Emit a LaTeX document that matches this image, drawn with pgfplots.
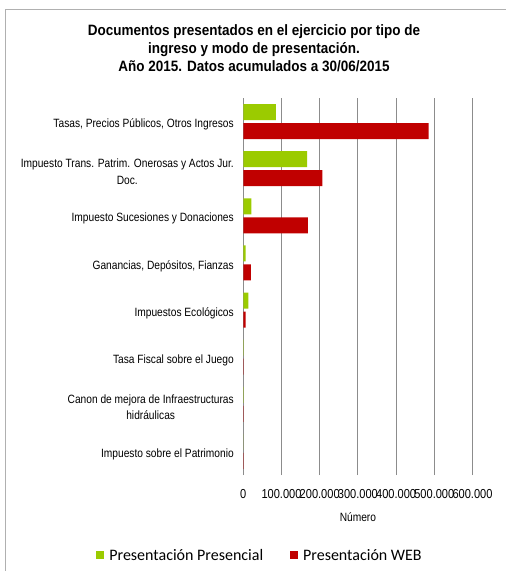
\documentclass[border=0pt]{standalone}
\usepackage{fontspec}
\setmainfont[FakeStretch=0.85]{Liberation Sans}
\newfontfamily\titlefont[FakeStretch=0.9]{Liberation Sans}
\newfontfamily\legfont{Carlito}
\usepackage{pgfplots}
\pgfplotsset{compat=1.18}
\definecolor{cgreen}{HTML}{9BCB00}
\definecolor{cred}{HTML}{C00000}
\definecolor{cgrid}{HTML}{8C8C8C}
\definecolor{cframe}{HTML}{B0B0B0}
\begin{document}
\begin{tikzpicture}
\path[use as bounding box] (0pt,0pt) rectangle (506pt,571pt);
\draw[cframe, line width=1pt] (5.7pt,0pt) -- (5.7pt,561.5pt) -- (506pt,561.5pt);
\node[align=center, font=\titlefont\fontsize{15}{18}\selectfont\bfseries] at (254pt,523pt)
  {Documentos presentados en el ejercicio por tipo de\\
   ingreso y modo de presentación.\hspace*{28pt}\\
   Año 2015. Datos acumulados a 30/06/2015};
\begin{axis}[
  at={(243.3pt,96pt)}, anchor=south west,
  scale only axis, width=229.2pt, height=377pt,
  xbar, bar width=16pt,
  xmin=0, xmax=600000, ymin=-0.5, ymax=7.5,
  axis line style={draw=none},
  xmajorgrids=true, grid style={cgrid, line width=1pt},
  major tick length=0pt,
  xtick={0,100000,200000,300000,400000,500000,600000},
  xticklabels={0,100.000,200.000,300.000,400.000,500.000,600.000},
  scaled x ticks=false,
  xticklabel style={font=\fontsize{13}{15}\selectfont, yshift=-11pt},
  ytick={0,1,2,3,4,5,6,7},
  yticklabels={Impuesto sobre el Patrimonio,
    {Canon de mejora de Infraestructuras\\hidráulicas},
    Tasa Fiscal sobre el Juego,
    Impuestos Ecológicos,
    {Ganancias, Depósitos, Fianzas},
    Impuesto Sucesiones y Donaciones,
    {Impuesto Trans. Patrim. Onerosas y Actos Jur.\\Doc.},
    {Tasas, Precios Públicos, Otros Ingresos}},
  yticklabel style={align=center, font=\fontsize{12}{16.5}\selectfont, xshift=-6pt, yshift=-3pt},
  xlabel={Número},
  xlabel style={font=\fontsize{12}{14}\selectfont, yshift=-7pt},
  legend columns=2,
  legend style={at={(axis description cs:0.073,-0.213)}, anchor=center, draw=none,
    font=\legfont\fontsize{16}{18}\selectfont,
    /tikz/every even column/.style={column sep=25pt}},
  legend image code/.code={\fill[#1] (0pt,-4pt) rectangle (8pt,4pt); \path (11pt,0pt);},
]
\addplot[fill=cgreen, draw=none, bar shift=9.5pt] coordinates {
  (85000,7) (167000,6) (21000,5) (6000,4) (13000,3) (800,2) (600,1) (0,0)};
\addplot[fill=cred, draw=none, bar shift=-9.5pt] coordinates {
  (485000,7) (207000,6) (169000,5) (20000,4) (6000,3) (1000,2) (800,1) (900,0)};
\legend{Presentación Presencial, Presentación WEB}
\end{axis}
\end{tikzpicture}
\end{document}
